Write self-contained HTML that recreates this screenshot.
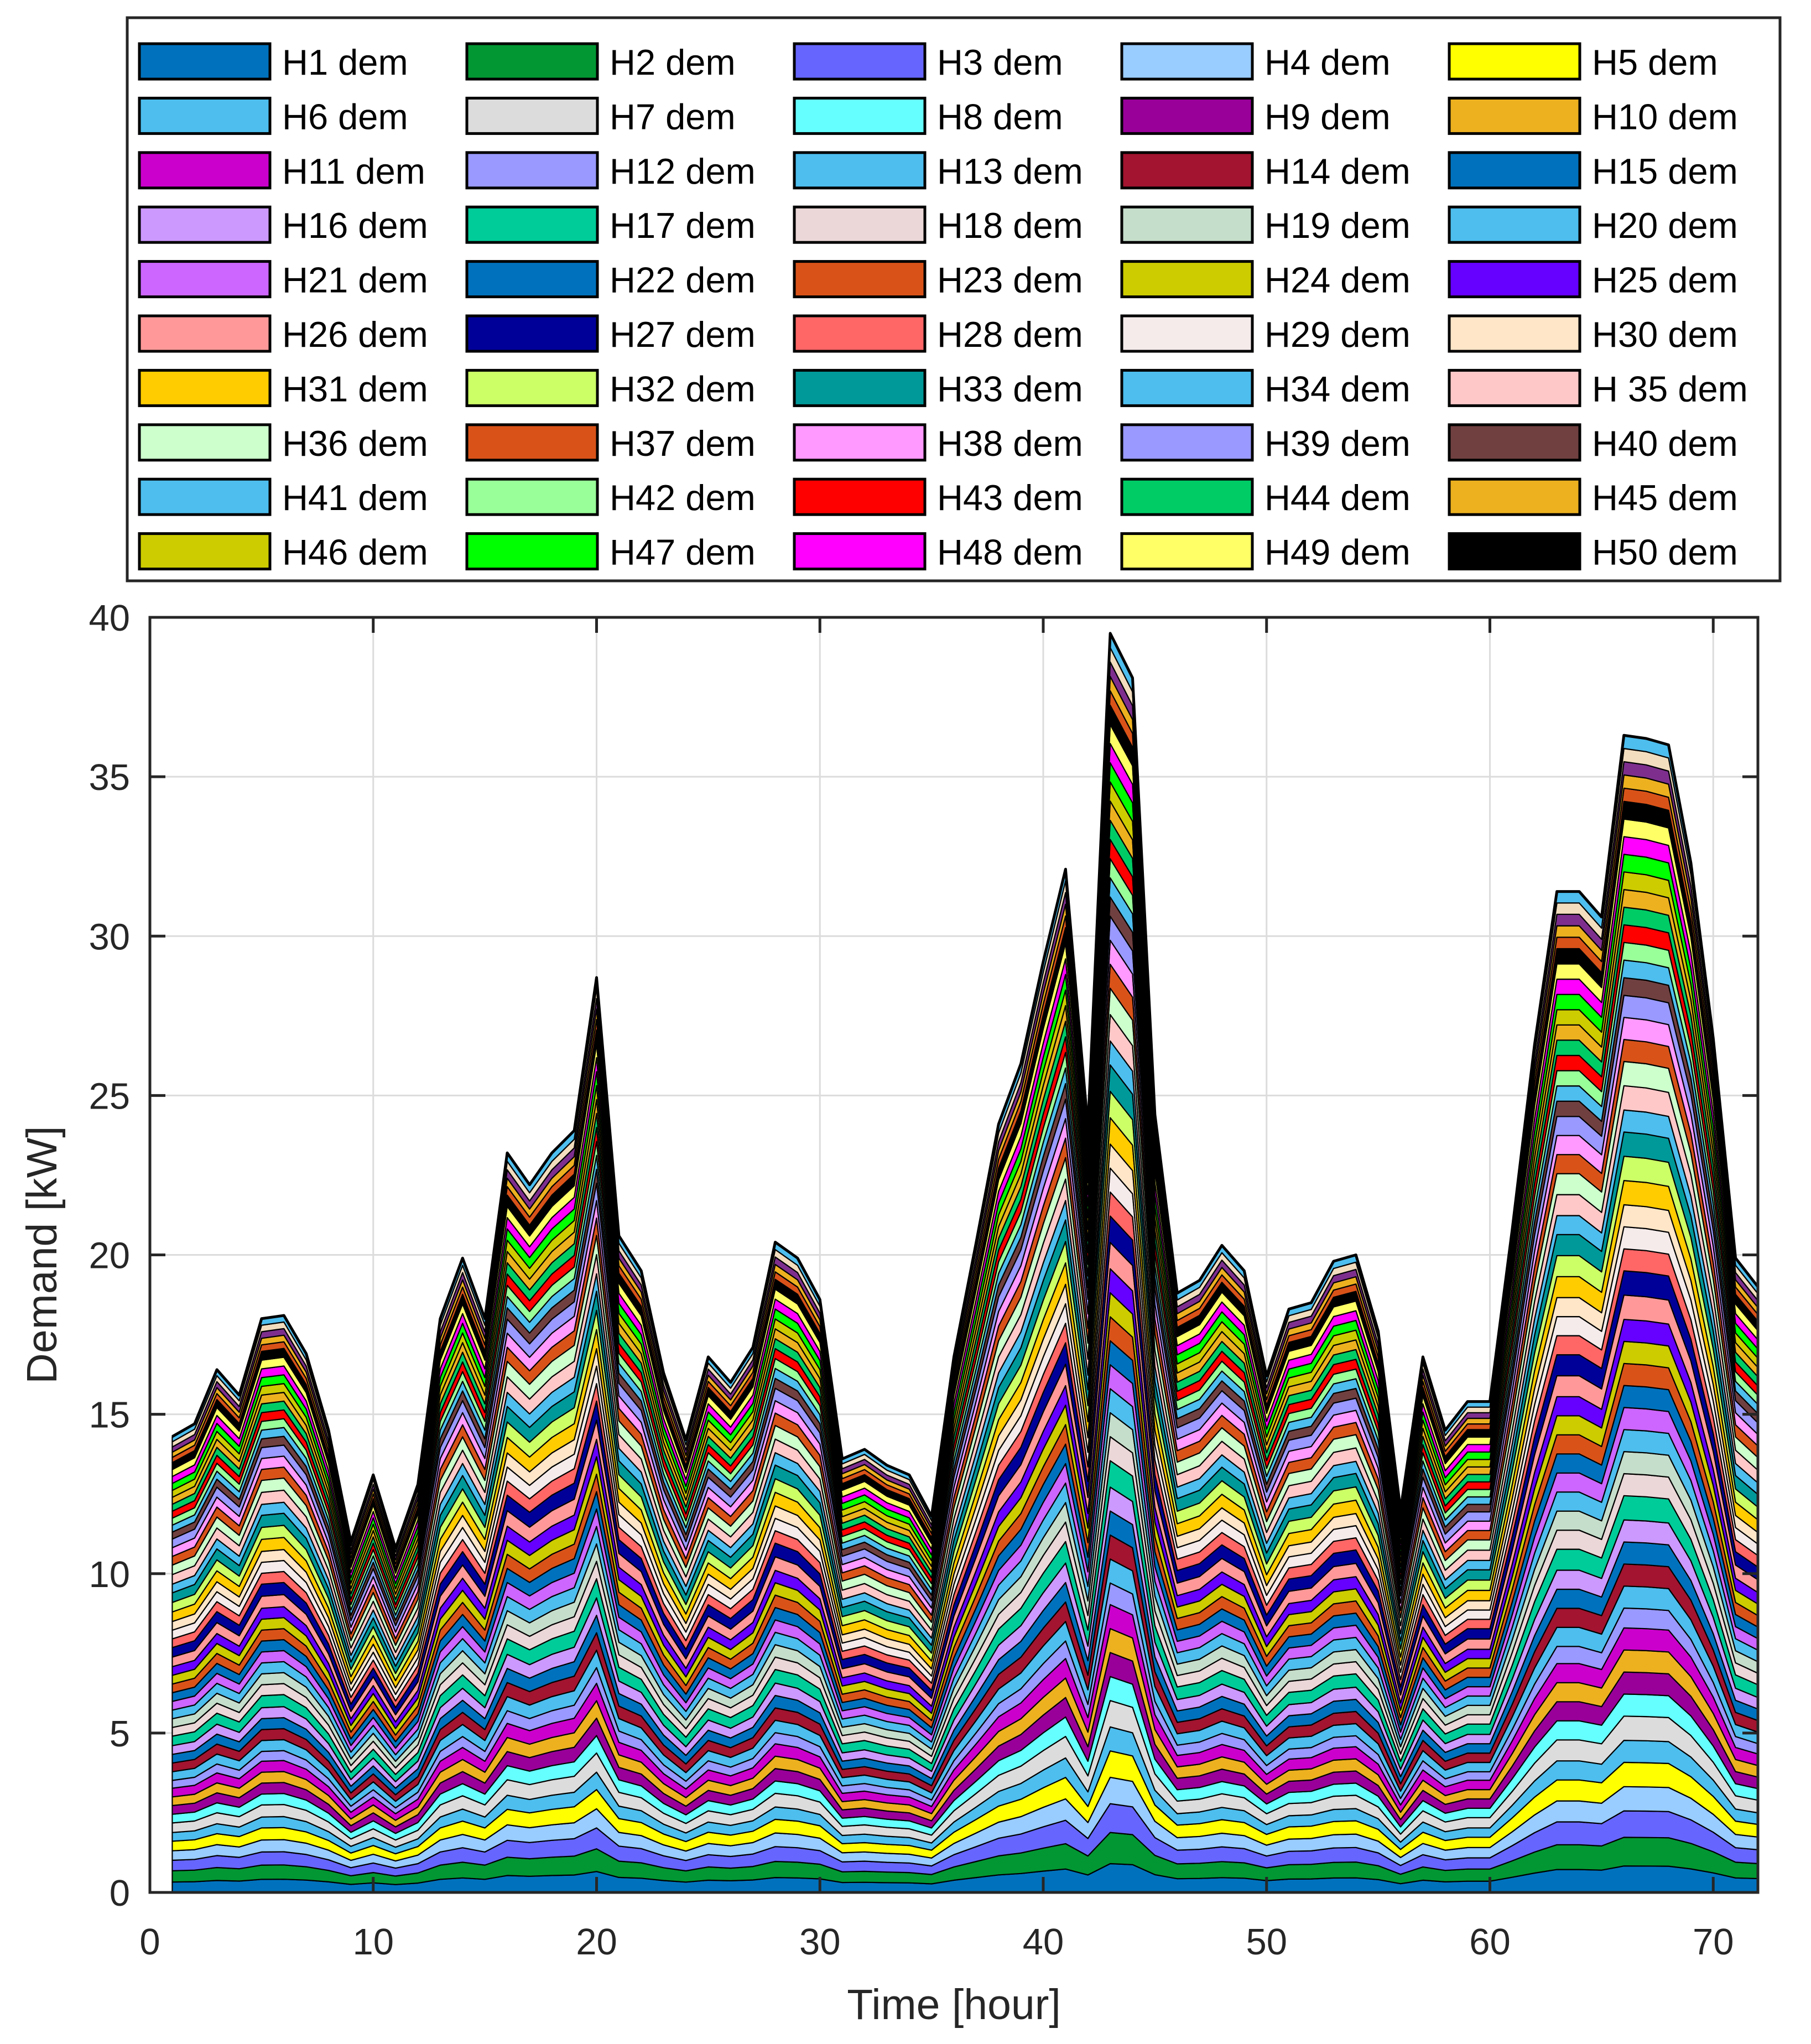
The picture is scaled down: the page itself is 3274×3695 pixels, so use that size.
<!DOCTYPE html>
<html><head><meta charset="utf-8"><style>
html,body{margin:0;padding:0;background:#fff;}
svg{display:block;font-family:"Liberation Sans",Arial,sans-serif;}
</style></head><body>
<svg id="chart" width="3274" height="3695" viewBox="0 0 3274 3695" xmlns="http://www.w3.org/2000/svg">
<rect width="3274" height="3695" fill="#fff"/>
<g id="grid"></g>
<g id="areas"></g>
<g id="axes"></g>
<g id="legend"></g>
</svg>
<script>
const hours = [1,2,3,4,5,6,7,8,9,10,11,12,13,14,15,16,17,18,19,20,21,22,23,24,25,26,27,28,29,30,31,32,33,34,35,36,37,38,39,40,41,42,43,44,45,46,47,48,49,50,51,52,53,54,55,56,57,58,59,60,61,62,63,64,65,66,67,68,69,70,71,72];
const totalDemand = [14.3,14.7,16.4,15.6,18.0,18.1,16.9,14.5,11.0,13.1,10.8,12.8,18.0,19.9,18.0,23.2,22.2,23.2,23.9,28.7,20.6,19.5,16.3,14.2,16.8,16.0,17.1,20.4,19.9,18.6,13.6,13.9,13.4,13.1,11.8,16.8,20.4,24.1,26.0,29.2,32.1,24.0,39.5,38.1,24.4,18.8,19.2,20.3,19.5,16.2,18.3,18.5,19.8,20.0,17.6,12.0,16.8,14.5,15.4,15.4,20.8,26.6,31.4,31.4,30.6,36.3,36.2,36.0,32.3,26.8,19.9,19.0];
const houseNames = ["H1 dem","H2 dem","H3 dem","H4 dem","H5 dem","H6 dem","H7 dem","H8 dem","H9 dem","H10 dem","H11 dem","H12 dem","H13 dem","H14 dem","H15 dem","H16 dem","H17 dem","H18 dem","H19 dem","H20 dem","H21 dem","H22 dem","H23 dem","H24 dem","H25 dem","H26 dem","H27 dem","H28 dem","H29 dem","H30 dem","H31 dem","H32 dem","H33 dem","H34 dem","H 35 dem","H36 dem","H37 dem","H38 dem","H39 dem","H40 dem","H41 dem","H42 dem","H43 dem","H44 dem","H45 dem","H46 dem","H47 dem","H48 dem","H49 dem","H50 dem","x1","x2","x3","x4","x5"];
const houseColors = ["#0072BD","#029733","#6666FF","#99CCFF","#FFFF00","#4DBEEE","#DCDCDC","#66FFFF","#990099","#EDB120","#CC00CC","#9999FF","#4DBEEE","#A2142F","#0072BD","#CC99FF","#00CC99","#EBD7D7","#C5DECB","#4DBEEE","#CC66FF","#0072BD","#D95319","#CCCC00","#6600FF","#FF9999","#000099","#FF6666","#F5EBEB","#FFE6C8","#FFCC00","#CCFF66","#009999","#4DBEEE","#FFC8C8","#CCFFCC","#D95319","#FF99FF","#9999FF","#704040","#4DBEEE","#99FF99","#FF0000","#00CC66","#EDB120","#CCCC00","#00FF00","#FF00FF","#FFFF66","#000000","#D95319","#EDB120","#7E2F8E","#F2DDBE","#4DBEEE"];
const houseShares = [1.2,1.3,1.2,1.1,1.1,1.0,1.1,1.0,1.0,1.0,1.0,0.9,1.0,1.0,1.0,1.0,1.1,1.0,1.0,1.0,1.0,1.0,1.0,1.0,1.0,1.1,1.1,1.0,1.0,1.0,1.1,1.1,1.1,1.0,1.1,1.1,1.0,1.0,1.0,0.8,0.8,0.8,0.8,0.8,0.8,0.8,0.8,0.8,0.8,0.8,0.6,0.6,0.6,0.6,0.6];
const yTicks = [0,5,10,15,20,25,30,35,40];
const xTicks = [0,10,20,30,40,50,60,70];

const L=271,R=3178,T=1116,B=3421;
const xs = v => L + (v-0)/(72-0)*(R-L);
const ys = v => B - v/40*(B-T);
const NS="http://www.w3.org/2000/svg";
function mk(tag,attrs,parent){const e=document.createElementNS(NS,tag);for(const k in attrs)e.setAttribute(k,attrs[k]);parent.appendChild(e);return e;}
const grid=document.getElementById('grid'),areas=document.getElementById('areas'),axes=document.getElementById('axes'),legend=document.getElementById('legend');

yTicks.forEach(v=>{const l=mk('line',{x1:L,x2:R,y1:ys(v),y2:ys(v),stroke:'#dcdcdc','stroke-width':3},grid);

});
xTicks.forEach(v=>{const l=mk('line',{x1:xs(v),x2:xs(v),y1:T,y2:B,stroke:'#dcdcdc','stroke-width':3},grid);

});

const shareSum = houseShares.reduce((a,b)=>a+b,0);
let base = hours.map(()=>0);
houseShares.forEach((s,k)=>{
  const top = base.map((b,i)=>b + totalDemand[i]*s/shareSum);
  let d='M'+hours.map((h,i)=>xs(h).toFixed(1)+','+ys(top[i]).toFixed(1)).join('L');
  for(let i=hours.length-1;i>=0;i--) d+='L'+xs(hours[i]).toFixed(1)+','+ys(base[i]).toFixed(1);
  d+='Z';
  const p=mk('path',{d:d,fill:houseColors[k],stroke:'#000','stroke-width':2.2,'stroke-linejoin':'round'},areas);
  
  
  base=top;
});
const outline=mk('polyline',{points:hours.map((h,i)=>xs(h)+','+ys(base[i])).join(' '),fill:'none',stroke:'#000','stroke-width':5,'stroke-linejoin':'round'},areas);



const box=mk('rect',{x:L,y:T,width:R-L,height:B-T,fill:'none',stroke:'#262626','stroke-width':5},axes);


yTicks.forEach(v=>{
  const t1=mk('line',{x1:L,x2:L+28,y1:ys(v),y2:ys(v),stroke:'#262626','stroke-width':5},axes);
  
  
  const t2=mk('line',{x1:R,x2:R-28,y1:ys(v),y2:ys(v),stroke:'#262626','stroke-width':5},axes);
  
  
  const tx=mk('text',{x:L-36,y:ys(v)+24,'text-anchor':'end','font-size':67,fill:'#262626'},axes);
  tx.textContent=v;
  
  
});
xTicks.forEach(v=>{
  const t1=mk('line',{x1:xs(v),x2:xs(v),y1:B,y2:B-28,stroke:'#262626','stroke-width':5},axes);
  
  
  const t2=mk('line',{x1:xs(v),x2:xs(v),y1:T,y2:T+28,stroke:'#262626','stroke-width':5},axes);
  
  
  const tx=mk('text',{x:xs(v),y:B+112,'text-anchor':'middle','font-size':67,fill:'#262626'},axes);
  tx.textContent=v;
  
  
});
const xt=mk('text',{x:(L+R)/2,y:3650,'text-anchor':'middle','font-size':77,fill:'#262626'},axes);
xt.textContent='Time [hour]';


const yt=mk('text',{x:0,y:0,'text-anchor':'middle','font-size':77,fill:'#262626',transform:'translate(102,'+((T+B)/2)+') rotate(-90)'},axes);
yt.textContent='Demand [kW]';



const lb=mk('rect',{x:230,y:32,width:2988,height:1018,fill:'#fff',stroke:'#262626','stroke-width':5},legend);


for(let k=0;k<50;k++){
  const col=k%5,row=Math.floor(k/5);
  const x0=252+col*592,yc=111+row*98.4;
  const g=mk('g',{},legend);
  
  
  mk('rect',{x:x0,y:yc-32,width:236,height:64,fill:houseColors[k],stroke:'#000','stroke-width':5},g);
  const t=mk('text',{x:x0+258,y:yc+24,'font-size':65,fill:'#000'},g);
  t.textContent=houseNames[k];
}
</script>
</body></html>
